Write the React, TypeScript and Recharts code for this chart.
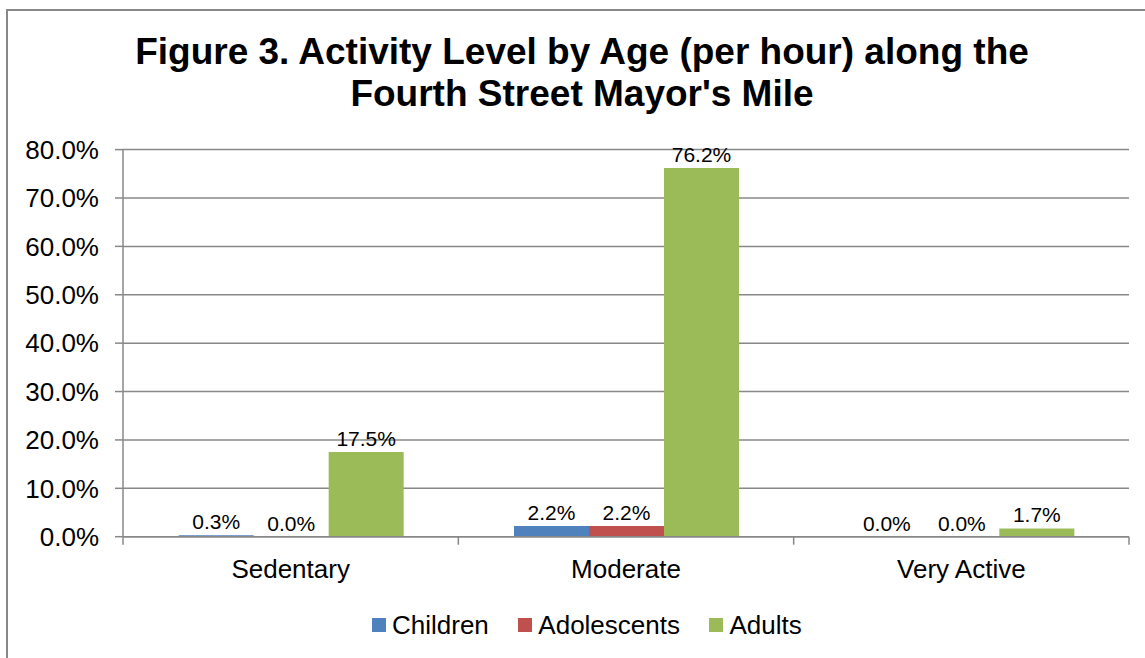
import React from 'react'
import { BarChart, Bar, XAxis, YAxis, CartesianGrid, Legend, LabelList } from 'recharts'

const CATEGORIES = ['Sedentary', 'Moderate', 'Very Active']
const CHILDREN = [0.3, 2.2, 0.0]
const ADOLESCENTS = [0.0, 2.2, 0.0]
const ADULTS = [17.5, 76.2, 1.7]
const Y_TICKS = [0, 10, 20, 30, 40, 50, 60, 70, 80]

const SERIES = [
  { key: 'children', name: 'Children', color: '#4F81BD' },
  { key: 'adolescents', name: 'Adolescents', color: '#C0504D' },
  { key: 'adults', name: 'Adults', color: '#9BBB59' },
]

const data = CATEGORIES.map((name, i) => ({
  name,
  children: CHILDREN[i],
  adolescents: ADOLESCENTS[i],
  adults: ADULTS[i],
}))

const FONT = 'Arial, "Liberation Sans", sans-serif'
const W = 1145
const H = 658
const PLOT_LEFT = 123
const PLOT_RIGHT = 1129
const PLOT_TOP = 149.6
const PLOT_BOTTOM = 536.7
const AXIS_GRAY = '#888'
const HALF_BAND = (PLOT_RIGHT - PLOT_LEFT) / CATEGORIES.length / 2

const pct = (v: any) => `${Number(v).toFixed(1)}%`

// excel style: tick marks sit between categories, label in the middle
const CategoryTick = (props: any) => {
  const { x, y, payload, index } = props
  const axisY = y - 8
  const last = index === CATEGORIES.length - 1
  return (
    <g>
      <line x1={x - HALF_BAND} x2={x - HALF_BAND} y1={axisY} y2={axisY + 8} stroke={AXIS_GRAY} strokeWidth={1.5} />
      {last && (
        <line x1={x + HALF_BAND} x2={x + HALF_BAND} y1={axisY} y2={axisY + 8} stroke={AXIS_GRAY} strokeWidth={1.5} />
      )}
      <text x={x} y={y} dy={33} textAnchor="middle" fill="#000" fontSize={26} fontFamily={FONT}>
        {payload.value}
      </text>
    </g>
  )
}

const LegendContent = () => (
  <div style={{ display: 'flex', alignItems: 'center', fontSize: 26, lineHeight: '30px', fontFamily: FONT, color: '#000' }}>
    {SERIES.map((s, i) => (
      <div key={s.key} style={{ display: 'flex', alignItems: 'center', marginLeft: i ? 29.5 : 0 }}>
        <span style={{ display: 'inline-block', width: 14, height: 14, background: s.color, marginRight: 6 }} />
        <span>{s.name}</span>
      </div>
    ))}
  </div>
)

export default function App() {
  return (
    <div style={{ position: 'absolute', left: 0, top: 0, width: W, height: H, overflow: 'hidden', background: '#fff' }}>
      <div
        style={{
          position: 'absolute',
          left: 6,
          top: 9,
          width: 1200,
          height: 720,
          border: `2px solid ${AXIS_GRAY}`,
          boxSizing: 'border-box',
        }}
      />
      <div
        style={{
          position: 'absolute',
          left: 0,
          top: 31,
          width: 1164,
          textAlign: 'center',
          fontFamily: FONT,
          fontWeight: 'bold',
          fontSize: 37,
          lineHeight: '42px',
          color: '#000',
        }}
      >
        Figure 3. Activity Level by Age (per hour) along the
        <br />
        Fourth Street Mayor's Mile
      </div>
      <div style={{ position: 'absolute', left: 0, top: 0 }}>
        <BarChart
          width={W}
          height={H}
          data={data}
          margin={{ top: PLOT_TOP, right: W - PLOT_RIGHT, left: PLOT_LEFT - 115, bottom: H - PLOT_BOTTOM - 30 }}
          barCategoryGap="16.6%"
          barGap={0}
        >
          <CartesianGrid vertical={false} stroke={AXIS_GRAY} strokeWidth={1.5} />
          <XAxis
            dataKey="name"
            height={30}
            tickSize={8}
            tickMargin={0}
            tickLine={false}
            axisLine={{ stroke: AXIS_GRAY, strokeWidth: 1.5 }}
            tick={<CategoryTick />}
            interval={0}
          />
          <YAxis
            width={115}
            domain={[0, 80]}
            ticks={Y_TICKS}
            interval={0}
            tickFormatter={pct}
            tickSize={8}
            tickMargin={16}
            axisLine={{ stroke: AXIS_GRAY, strokeWidth: 1.5 }}
            tickLine={{ stroke: AXIS_GRAY, strokeWidth: 1.5 }}
            tick={{ fill: '#000', fontSize: 26, fontFamily: FONT }}
          />
          <Legend
            layout="horizontal"
            align="center"
            verticalAlign="middle"
            wrapperStyle={{ left: 372, top: 610, width: 'auto', height: 'auto' }}
            content={<LegendContent />}
          />
          {SERIES.map((s) => (
            <Bar
              key={s.key}
              dataKey={s.key}
              name={s.name}
              fill={s.color}
              minPointSize={0.01}
              isAnimationActive={false}
            >
              <LabelList
                dataKey={s.key}
                position="top"
                offset={6}
                formatter={pct}
                fill="#000"
                fontSize={21}
                fontFamily={FONT}
              />
            </Bar>
          ))}
        </BarChart>
      </div>
    </div>
  )
}
